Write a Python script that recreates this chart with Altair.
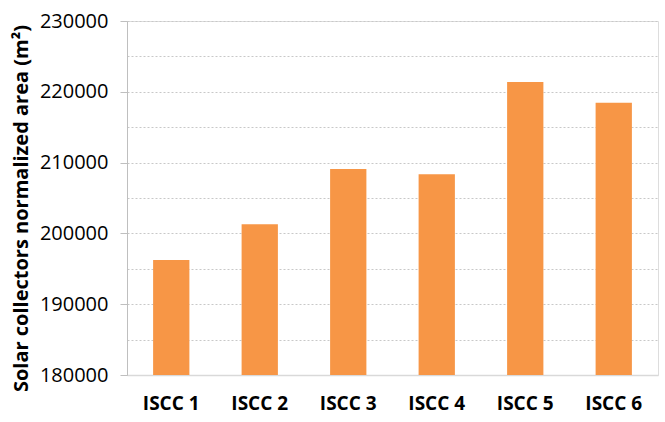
import altair as alt
import pandas as pd

categories = ["ISCC 1", "ISCC 2", "ISCC 3", "ISCC 4", "ISCC 5", "ISCC 6"]
areas = [196250, 201300, 209100, 208350, 221400, 218450]
y_ticks = [180000, 185000, 190000, 195000, 200000, 205000, 210000, 215000, 220000, 225000, 230000]

df = pd.DataFrame({"case": categories, "area": areas})

chart = alt.Chart(df).mark_bar(color="#F79646", clip=True).encode(
    x=alt.X("case:N", sort=categories,
            scale=alt.Scale(paddingInner=0.59, paddingOuter=0.295),
            axis=alt.Axis(title=None, labelAngle=0, labelFont="Open Sans",
                          labelFontSize=19, labelFontWeight="bold", labelColor="#000000",
                          labelPadding=19, ticks=False, domainColor="#d9d9d9", domainWidth=1.5)),
    y=alt.Y("area:Q",
            scale=alt.Scale(domain=[180000, 230000], nice=False, zero=False),
            axis=alt.Axis(title="Solar collectors normalized area (m²)", values=y_ticks,
                          labelExpr="datum.value % 10000 == 0 ? datum.value : ''",
                          format="d",
                          labelFont="Open Sans", labelFontSize=20, labelColor="#000000",
                          labelPadding=12,
                          tickSize=7, tickColor="#bfbfbf",
                          tickOpacity={"condition": {"test": "datum.value % 10000 == 0", "value": 1}, "value": 0},
                          domainColor="#bfbfbf",
                          grid=True, gridColor="#c8c8c8", gridDash=[2, 2], gridWidth=1,
                          titleFont="Open Sans", titleFontSize=20, titleFontWeight="bold",
                          titleColor="#000000", titlePadding=8, titleY=187)),
).properties(
    width=531, height=354,
    autosize=alt.AutoSizeParams(type="none"),
    padding={"left": 127, "top": 21, "right": 7, "bottom": 47},
).configure_view(stroke=None).configure(background="white")

chart.save("out.html", embed_options={"renderer": "svg", "actions": False})
